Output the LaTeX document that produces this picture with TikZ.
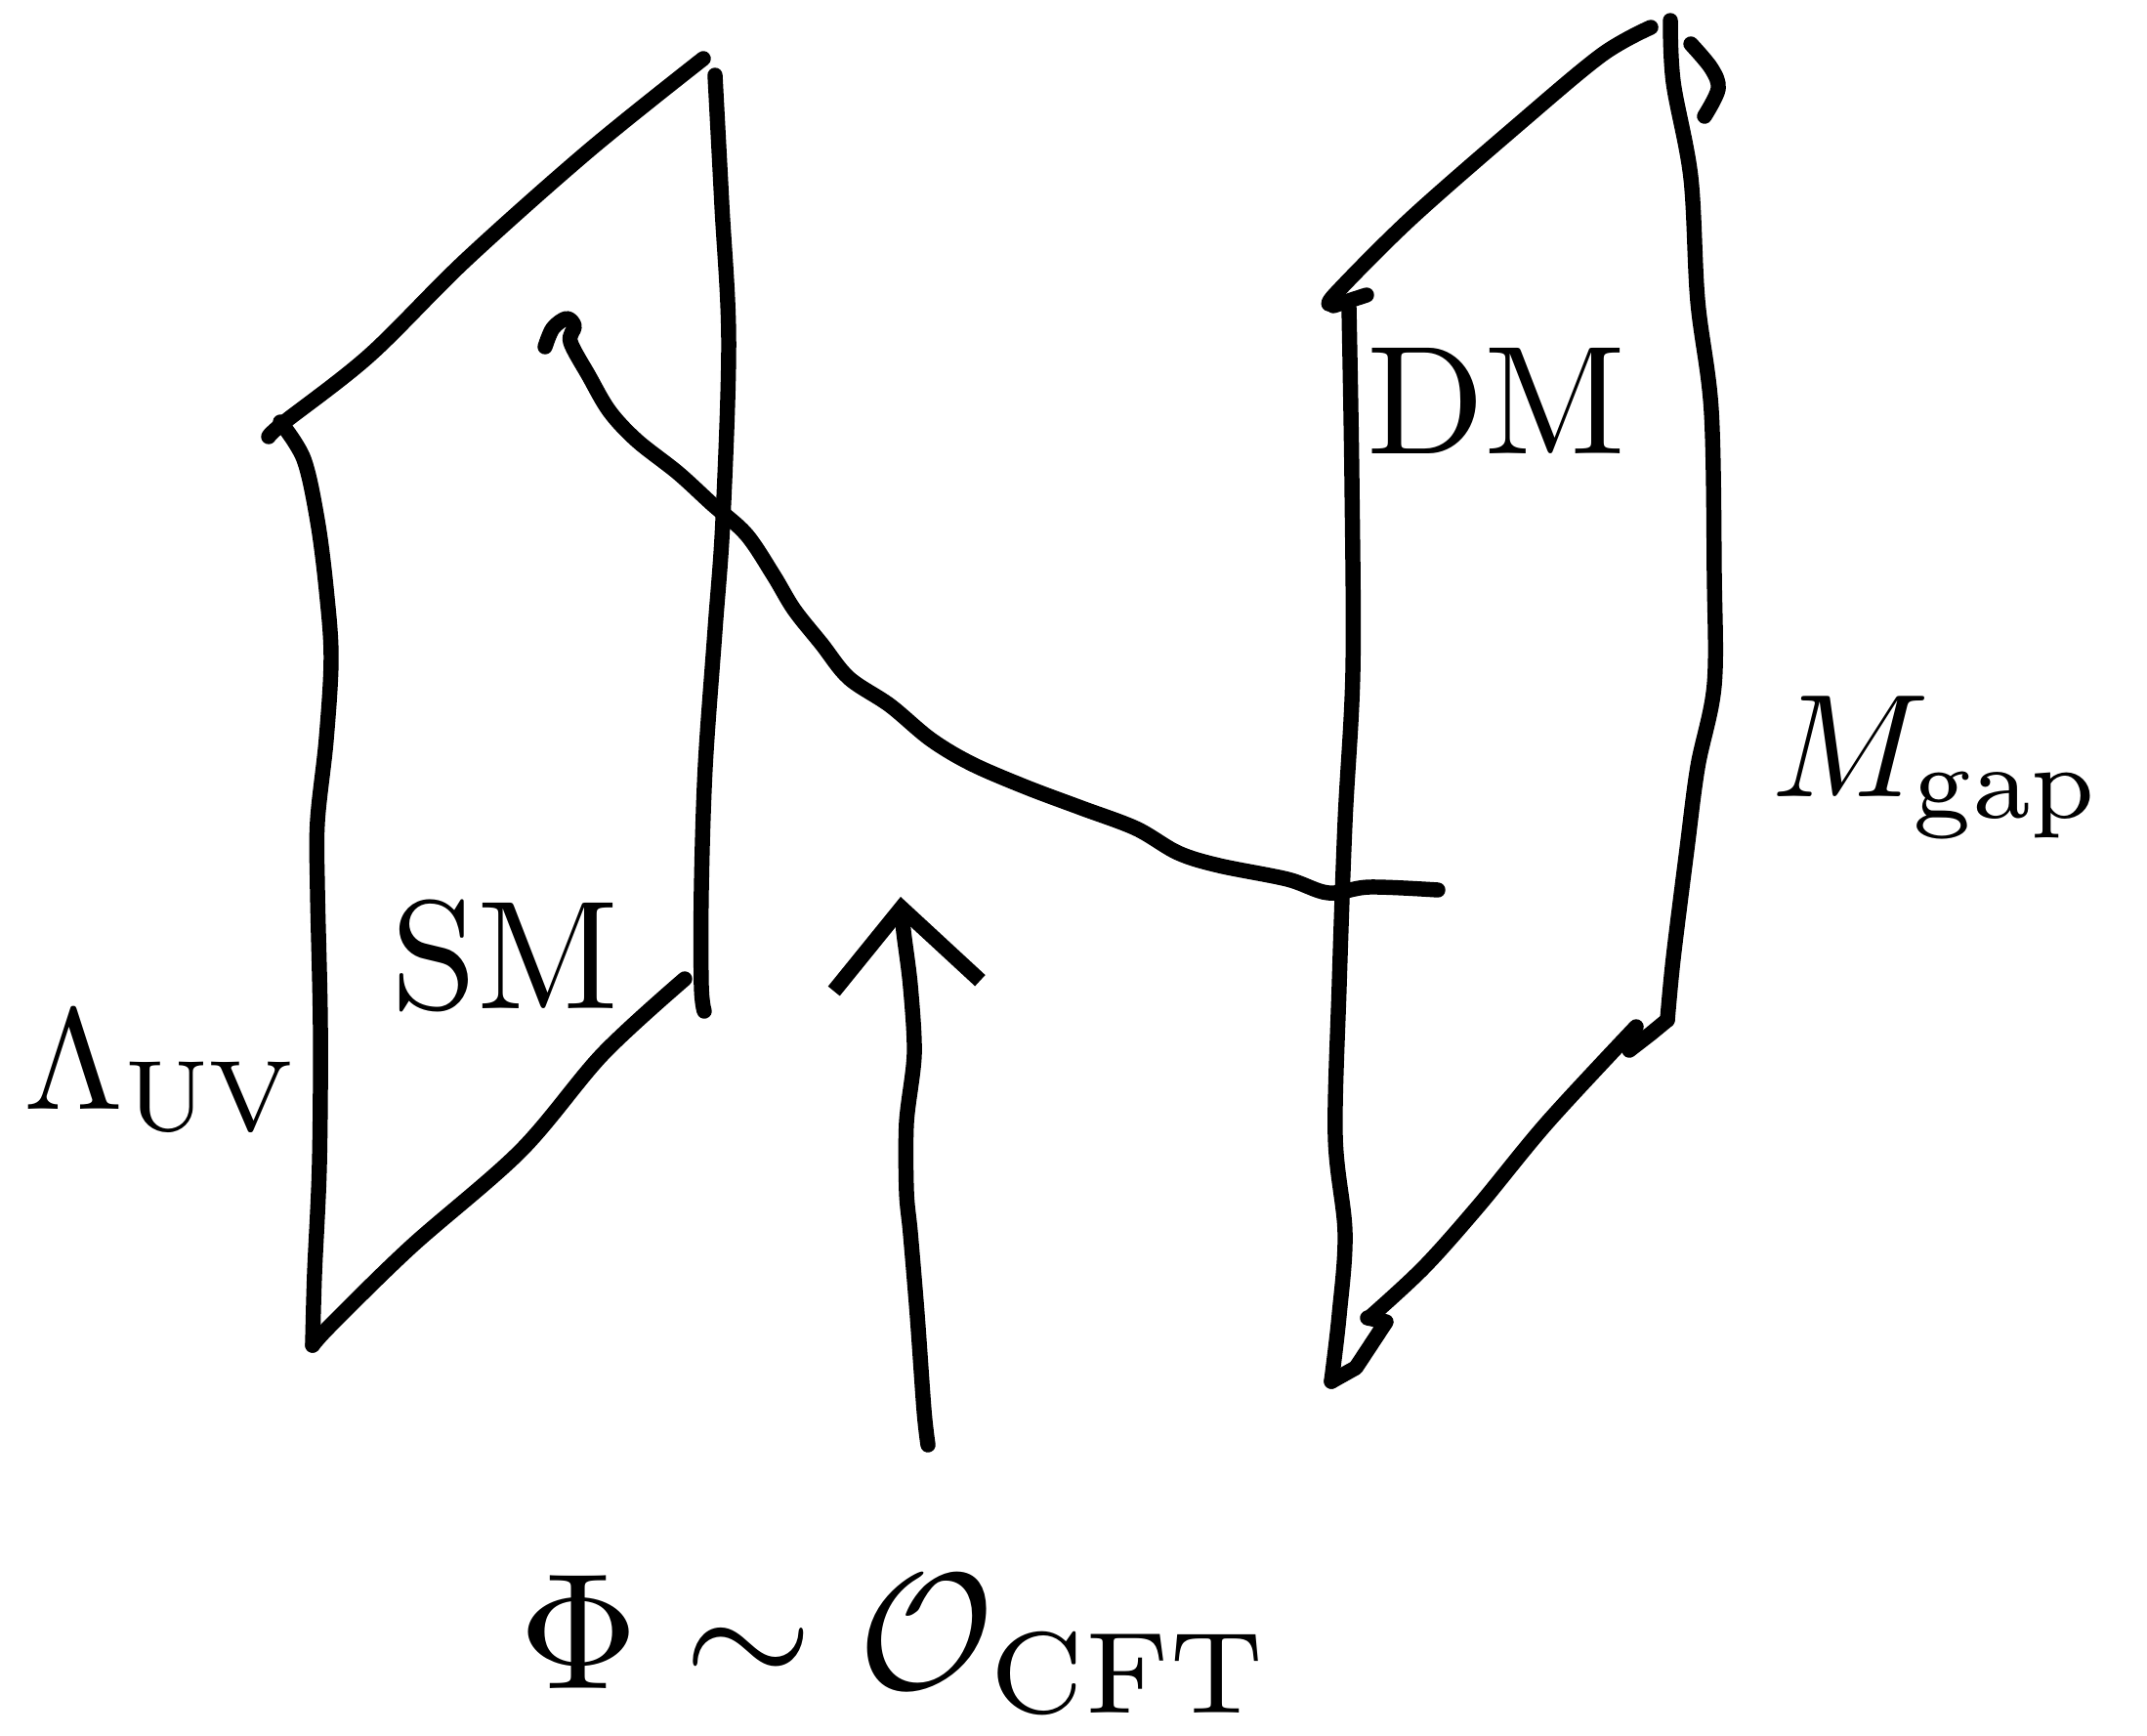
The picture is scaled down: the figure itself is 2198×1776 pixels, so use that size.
\documentclass[tikz,border=0pt]{standalone}
\usepackage{tikz}
\usetikzlibrary{arrows.meta}
\tikzset{
    pen/.style = {line width=4.4pt, line cap=round, line join=round},
    edge/.style = {pen, smooth, tension=0.55},
    hand/.style = {inner sep=0pt, scale=4.5},
    uparrow/.style = {pen, smooth, -{Straight Barb[length=8mm, width=15mm, line width=4.4pt]}}
}

\begin{document}
\begin{tikzpicture}[x=0.01cm, y=-0.01cm]
	\useasboundingbox (0,0) rectangle (2198,1776);

	% SM plane
	\coordinate (smTL) at (287,432);
	\coordinate (smTR) at (732,77);
	\coordinate (smBL) at (320,1377);
	\coordinate (smBR) at (701,1002);
	\draw[edge] plot coordinates {(275,447) (290,433) (378,364) (477,266) (603,154) (720,60)};
	\draw[edge] plot coordinates {(smTL) (311,470) (325,533) (334,603) (339,673) (334,757) (325,841) (325,911) (328,1051) (327,1192) (322,1304) (smBL)};
	\draw[edge] plot coordinates {(smTR) (739,210) (746,350) (740,533) (732,645) (722,785) (718,911) (718,1009) (721,1035)};
	\draw[edge] plot coordinates {(smBL) (340,1355) (421,1276) (533,1178) (617,1079) (smBR)};

	% DM plane
	\coordinate (dmTL) at (1381,315);
	\coordinate (dmTR) at (1710,21);
	\coordinate (dmBL) at (1363,1414);
	\coordinate (dmBR) at (1707,1044);
	\draw[edge] plot coordinates {(1363,311) (1367,301) (1444,224) (1556,126) (1640,56) (1690,28)};
	\draw[pen] (1365,313) -- (1399,302);
	\draw[edge] plot coordinates {(dmTL) (1384,491) (1385,687) (1377,841) (1371,1009) (1367,1163) (1377,1262) (1371,1346) (dmBL)};
	\draw[edge] plot coordinates {(dmTR) (1713,84) (1731,182) (1738,308) (1752,421) (1755,589) (1755,701) (1738,785) (1727,869) (1713,981) (dmBR)};
	\draw[pen] (dmBR) -- (1690,1058) -- (1668,1075);
	\draw[edge] plot coordinates {(1731,45) (1752,70) (1759,91) (1745,119)};
	\draw[edge] plot coordinates {(1675,1051) (1584,1149) (1514,1234) (1458,1297) (1404,1347)};
	\draw[pen] (1400,1349) -- (1419,1353) -- (1388,1400) -- (dmBL);

	% wavy line between the planes
	\coordinate (wavestart) at (558,355);
	\coordinate (waveend) at (1472,911);
	\draw[edge] plot coordinates {(wavestart) (566,336) (580,326) (588,334) (584,350) (603,385) (624,421) (652,451) (694,484) (729,516) (764,547) (792,589) (813,624) (841,659) (869,694) (911,722) (953,757) (995,782) (1051,806) (1107,827) (1163,848) (1206,873) (1248,886) (1318,900) (1360,914) (1402,908) (waveend)};

	% arrow
	\coordinate (arrowtail) at (950,1479);
	\coordinate (arrowtip) at (922,918);
	\draw[uparrow] plot coordinates {(arrowtail) (946,1444) (939,1346) (932,1262) (928,1220) (928,1149) (936,1079) (932,1009) (925,953) (arrowtip)};

	% labels
	\node[hand, scale=0.93, anchor=base west] (uv) at (22,1135) {$\Lambda_{\mathrm{UV}}$};
	\node[hand] (sm) at (517,978) {SM};
	\node[hand] (dm) at (1532,410) {DM};
	\node[hand, scale=0.95, anchor=base west] (gap) at (1810,815) {$M_{\mathrm{gap}}$};
	\node[hand, scale=1.07, anchor=base] (phi) at (917,1728) {$\Phi\sim\mathcal{O}_{\mathrm{CFT}}$};
\end{tikzpicture}
\end{document}
